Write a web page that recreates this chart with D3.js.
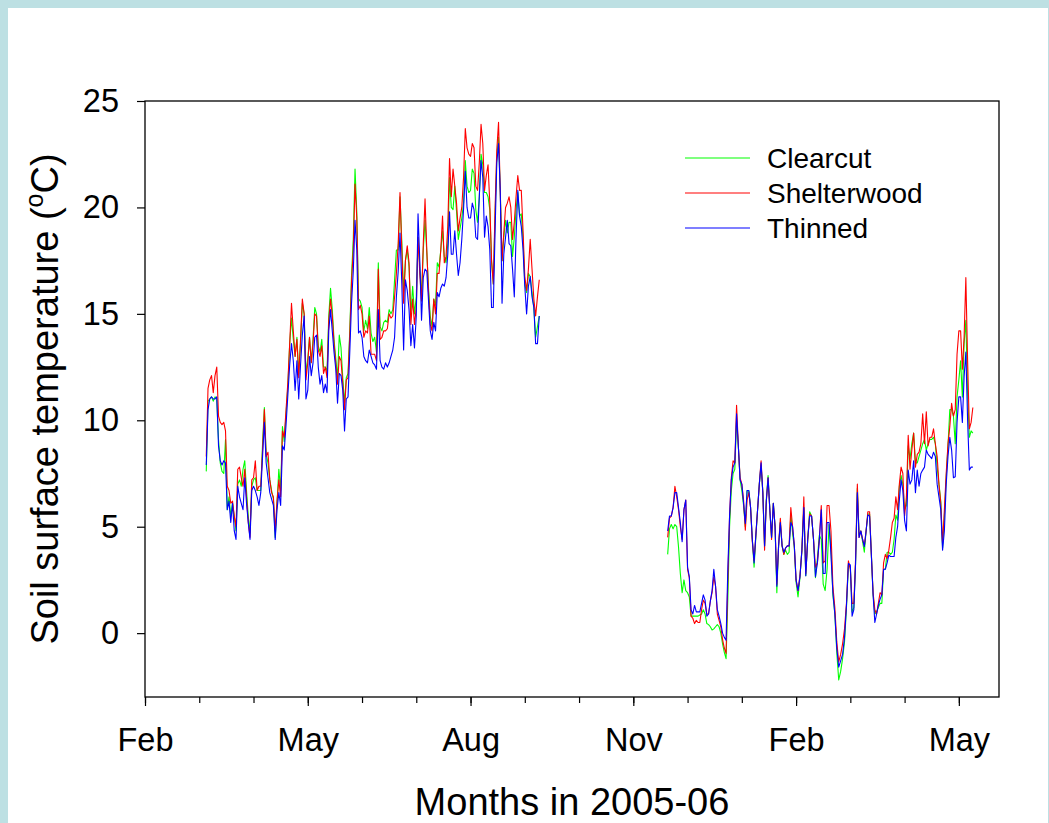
<!DOCTYPE html>
<html>
<head>
<meta charset="utf-8">
<script src="https://cdn.jsdelivr.net/npm/d3@7"></script>
<style>
  html, body { margin: 0; padding: 0; background: #bde0e3; }
  svg { display: block; }
  text { font-family: Arial, "Liberation Sans", sans-serif; fill: #000; }
</style>
</head>
<body>
<svg id="chart" width="1049" height="823"></svg>
<script>
// ---------------- DATA ----------------
const seriesNames = ["Clearcut", "Shelterwood", "Thinned"];
const seriesColors = ["#00ff00", "#ff0000", "#0000ff"];
const xTickLabels = ["Feb", "May", "Aug", "Nov", "Feb", "May"];
const yTicks = [0, 5, 10, 15, 20, 25];

const seg1Start = "2005-03-05";
const seg2Start = "2005-11-20";

const clearcut1 = [
  7.6, 10.9, 11.0, 11.1, 10.9, 11.1, 11.0, 9.1, 8.0, 7.6,
  7.5, 9.1, 5.8, 6.4, 5.5, 6.1, 5.5, 4.8, 7.0, 7.2,
  6.9, 7.7, 8.1, 6.7, 5.5, 4.7, 6.9, 7.2, 7.3, 6.7,
  6.7, 6.7, 8.9, 10.6, 8.4, 8.0, 7.2, 6.7, 6.3, 4.5,
  6.1, 7.7, 6.7, 9.7, 9.0, 10.3, 11.6, 13.6, 14.8, 13.8,
  13.0, 13.9, 12.2, 13.6, 15.5, 15.0, 12.2, 12.9, 13.9, 12.7,
  13.8, 15.3, 15.0, 13.5, 13.2, 13.8, 12.5, 12.5, 12.3, 14.9,
  16.2, 15.2, 13.8, 12.9, 12.0, 14.0, 13.4, 12.0, 10.8, 12.0,
  12.2, 14.2, 16.8, 18.5, 21.8, 19.8, 15.7, 15.6, 15.3, 14.2,
  14.7, 14.3, 15.3, 14.1, 13.7, 13.9, 13.2, 17.4, 14.4, 14.2,
  14.6, 14.7, 14.6, 15.2, 15.0, 15.2, 16.6, 18.0, 18.0, 20.5,
  18.4, 16.0, 17.5, 18.0, 17.2, 15.0, 16.3, 15.0, 15.8, 18.6,
  17.2, 15.8, 18.0, 19.4, 17.9, 16.2, 14.9, 14.4, 15.7, 15.4,
  17.4, 17.2, 18.0, 18.9, 17.7, 17.4, 18.3, 21.4, 20.0, 19.9,
  21.0, 19.8, 18.5, 19.0, 19.5, 20.2, 22.2, 21.0, 20.7, 20.8,
  21.8, 21.6, 19.9, 19.3, 20.5, 22.5, 22.0, 20.7, 20.7, 20.5,
  19.9, 17.5, 16.4, 19.5, 22.4, 23.3, 20.7, 17.5, 18.6, 19.4,
  18.8, 19.3, 19.3, 17.7, 18.6, 19.9, 20.7, 19.6, 19.7, 18.5,
  16.4, 16.0, 16.9, 16.75, 16.0, 15.3, 13.9, 14.4, 14.9
];
const shelterwood1 = [
  8.3, 11.5, 11.9, 12.1, 11.3, 12.1, 12.5, 10.2, 9.9, 9.8,
  9.9, 9.5, 6.9, 6.7, 6.1, 6.2, 5.5, 5.0, 7.7, 7.8,
  7.3, 6.9, 7.7, 6.4, 5.2, 4.5, 7.2, 7.3, 8.1, 6.7,
  6.9, 6.9, 8.6, 10.5, 8.3, 8.5, 7.2, 6.6, 6.4, 4.8,
  6.2, 7.2, 6.4, 9.5, 9.2, 10.5, 11.8, 13.6, 15.5, 14.2,
  13.0, 13.8, 12.0, 13.8, 15.7, 15.0, 11.9, 12.7, 13.9, 12.7,
  13.6, 15.0, 14.9, 13.3, 13.0, 13.5, 12.2, 12.5, 12.0, 14.7,
  15.7, 14.9, 13.6, 12.7, 11.7, 13.0, 12.8, 11.7, 10.5, 11.9,
  12.0, 14.0, 16.5, 18.0, 21.1, 19.5, 15.2, 15.4, 15.0, 13.9,
  14.2, 14.1, 14.9, 13.1, 13.1, 13.1, 12.8, 17.1, 13.8, 13.9,
  14.2, 14.2, 14.3, 15.0, 14.8, 14.9, 15.8, 16.9, 18.3, 20.7,
  18.0, 15.5, 17.5, 18.2, 17.4, 14.5, 15.7, 14.5, 15.3, 18.6,
  16.9, 15.6, 18.3, 20.4, 18.0, 16.0, 14.5, 14.2, 15.7, 15.0,
  16.9, 16.9, 18.0, 19.6, 17.4, 17.7, 19.1, 22.3, 20.5, 21.8,
  21.0, 20.2, 18.9, 19.5, 20.0, 21.4, 23.7, 22.8, 22.5, 22.4,
  23.0, 22.8, 21.0, 20.8, 22.1, 23.9, 23.0, 20.8, 21.5, 22.0,
  20.2, 17.5, 16.4, 19.9, 22.7, 24.0, 20.7, 17.5, 18.8, 20.0,
  20.2, 20.5, 20.0, 18.5, 19.3, 20.5, 21.5, 20.8, 20.8, 18.9,
  16.75, 16.1, 17.1, 18.5, 17.1, 15.7, 14.9, 15.8, 16.6
];
const thinned1 = [
  7.9, 10.5, 11.0, 11.1, 11.0, 11.0, 11.1, 8.8, 8.1, 7.9,
  8.1, 8.0, 5.8, 6.2, 5.2, 6.1, 4.8, 4.4, 6.9, 6.4,
  6.1, 5.8, 7.3, 6.1, 5.2, 4.4, 6.7, 6.9, 6.7, 6.4,
  6.0, 6.6, 8.3, 9.9, 8.0, 7.3, 6.6, 6.3, 6.0, 4.4,
  5.8, 6.6, 6.0, 8.8, 8.6, 9.8, 11.2, 12.6, 13.6, 12.8,
  11.4, 12.8, 11.0, 12.6, 14.0, 14.9, 11.0, 11.4, 13.0, 12.1,
  12.7, 13.9, 14.0, 12.5, 11.7, 12.1, 11.3, 11.7, 11.3, 14.2,
  15.2, 14.2, 13.2, 12.4, 10.8, 12.2, 12.1, 11.4, 9.5, 11.0,
  11.1, 13.2, 15.5, 17.0, 19.4, 18.0, 14.1, 14.2, 13.9, 13.0,
  12.8, 12.7, 13.3, 13.0, 12.7, 12.6, 12.4, 15.2, 12.8, 12.5,
  12.4, 12.7, 12.5, 12.7, 13.0, 13.3, 13.9, 15.8, 17.0, 18.8,
  16.4, 13.3, 16.6, 16.1, 15.2, 13.5, 14.5, 13.4, 14.9, 19.7,
  17.5, 14.7, 16.7, 17.1, 17.0, 15.6, 14.2, 13.8, 14.6, 14.2,
  16.0, 15.8, 16.2, 16.4, 16.3, 16.7, 17.8, 19.8, 17.8, 17.8,
  18.9, 17.8, 16.8, 17.4, 18.5, 19.9, 21.7, 20.0, 19.5, 19.5,
  20.2, 19.9, 18.6, 18.5, 20.5, 22.2, 21.4, 18.6, 19.6, 19.1,
  18.0, 15.3, 15.3, 18.8, 22.1, 23.0, 20.7, 15.5, 17.8, 18.6,
  19.4, 18.3, 18.2, 17.1, 15.8, 18.6, 20.8, 19.6, 19.1, 18.0,
  16.3, 15.0, 16.3, 16.75, 15.8, 15.3, 13.6, 13.6, 14.9
];

const clearcut2 = [
  3.7, 4.9, 5.1, 4.9, 5.1, 5.0, 4.05, 2.8, 1.9, 2.5,
  2.0, 1.9, 1.7, 0.8, 0.8, 0.8, 0.8, 0.8, 0.85, 0.9,
  1.1, 0.9, 0.45, 0.4, 0.3, 0.15, 0.2, 0.3, 0.4, 0.3,
  0.0, -0.5, -0.9, -1.2, 1.6, 5.0, 6.7, 7.5, 7.7, 10.0,
  8.8, 7.2, 6.7, 6.0, 5.0, 6.7, 6.7, 5.9, 4.4, 3.1,
  4.5, 5.8, 7.0, 7.9, 6.6, 4.1, 6.3, 7.4, 5.8, 4.5,
  6.1, 5.0, 1.9, 4.1, 5.2, 4.1, 3.7, 3.9, 3.7, 3.8,
  5.6, 4.7, 4.0, 2.4, 1.7, 2.6, 3.9, 5.9, 2.7, 4.4,
  5.7, 5.5, 4.4, 2.6, 3.5, 4.6, 4.4, 2.3, 2.0, 3.0,
  5.1, 4.0, 1.8, 0.9, -0.9, -2.2, -1.8, -1.2, -0.4, 1.2,
  3.2, 3.1, 1.0, 1.2, 3.3, 6.8, 4.6, 4.8, 4.3, 3.8,
  4.8, 5.6, 5.6, 3.7, 1.8, 0.9, 1.0, 1.2, 1.4, 1.4,
  3.0, 3.0, 3.8, 3.8, 3.7, 3.8, 4.4, 5.55, 5.3, 6.9,
  7.4, 7.0, 5.8, 6.0, 8.8, 8.2, 8.9, 9.4, 8.0, 8.0,
  8.3, 8.6, 8.9, 9.1, 8.6, 8.9, 9.1, 9.1, 9.2, 8.9,
  7.8, 7.0, 6.2, 4.0, 5.5, 7.3, 8.8, 10.5, 10.5, 10.2,
  8.9, 11.1, 11.9, 12.8, 11.1, 13.6, 14.7, 11.3, 9.2, 9.5,
  9.4
];
const shelterwood2 = [
  4.5, 5.4, 5.5, 5.9, 6.9, 6.4, 5.8, 5.0, 4.4, 5.8,
  6.25, 3.0, 2.6, 0.8, 0.7, 0.45, 0.6, 0.5, 0.5, 1.1,
  1.55, 1.4, 0.9, 0.9, 1.5, 1.9, 2.65, 2.2, 0.9, 0.6,
  0.3, -0.3, -0.7, -0.95, 2.5, 5.5, 7.3, 8.1, 8.0, 10.7,
  8.8, 7.3, 7.0, 6.25, 4.84, 6.25, 6.6, 5.9, 4.3, 3.4,
  4.6, 5.8, 7.0, 8.1, 6.6, 3.9, 6.2, 7.3, 5.8, 4.4,
  6.1, 5.0, 2.3, 4.1, 5.4, 4.1, 3.7, 4.0, 4.1, 4.1,
  5.9, 5.0, 4.1, 2.5, 2.0, 2.7, 3.9, 6.4, 2.8, 4.4,
  5.6, 5.5, 4.4, 3.1, 3.3, 4.4, 6.0, 3.3, 3.4, 6.0,
  6.0, 4.8, 2.2, 1.2, -0.4, -1.35, -1.0, -0.5, 0.2, 1.4,
  3.4, 3.0, 1.4, 1.4, 3.5, 7.0, 4.5, 4.8, 4.4, 4.1,
  4.8, 5.7, 5.7, 3.7, 1.9, 1.1, 0.9, 1.4, 1.9, 1.8,
  3.3, 3.7, 3.5, 3.9, 4.5, 5.2, 5.4, 6.4, 5.8, 7.0,
  7.8, 7.5, 5.5, 6.4, 9.3, 7.7, 8.6, 9.4, 7.8, 8.4,
  8.5, 8.9, 10.3, 8.9, 10.4, 8.8, 9.2, 9.2, 9.6, 8.9,
  8.3, 7.0, 6.1, 4.2, 5.8, 7.5, 8.9, 9.7, 10.8, 10.2,
  10.5, 13.1, 14.2, 14.2, 12.4, 13.9, 16.7, 12.8, 9.6, 9.9,
  10.6
];
const thinned2 = [
  4.8, 5.5, 5.5, 5.9, 6.6, 6.6, 5.9, 5.2, 4.3, 5.8,
  6.25, 3.1, 2.65, 1.1, 0.9, 1.3, 1.0, 1.0, 1.0, 1.4,
  1.8, 1.55, 0.8, 0.9, 1.5, 2.0, 3.0, 2.2, 1.1, 0.8,
  0.45, 0.0, -0.2, -0.33, 3.0, 5.5, 7.2, 7.8, 8.0, 10.3,
  8.8, 7.2, 7.0, 6.1, 5.15, 6.7, 6.7, 5.9, 4.4, 3.3,
  4.6, 5.8, 7.0, 8.0, 6.6, 4.1, 6.2, 7.3, 5.8, 4.5,
  6.1, 5.0, 2.2, 4.1, 5.2, 4.1, 3.8, 4.0, 4.1, 4.1,
  5.2, 5.0, 4.1, 2.5, 2.0, 2.65, 3.9, 5.9, 2.7, 4.4,
  5.5, 5.5, 4.4, 2.65, 3.3, 4.4, 5.8, 2.8, 2.8, 5.2,
  5.2, 3.7, 1.9, 0.9, -0.7, -1.6, -1.3, -1.0, -0.2, 1.3,
  3.27, 3.2, 0.8, 1.1, 3.3, 6.6, 4.5, 4.8, 4.4, 4.06,
  4.8, 5.55, 5.5, 3.7, 1.8, 0.5, 0.9, 1.3, 1.6, 1.8,
  3.0, 3.0, 3.3, 3.66, 3.6, 3.6, 3.6, 4.5, 5.0, 6.25,
  7.2, 6.7, 5.3, 4.8, 7.66, 7.0, 7.2, 8.1, 6.6, 7.66,
  6.9, 7.5, 7.66, 7.8, 8.6, 8.4, 8.3, 8.2, 8.5, 8.3,
  7.0, 6.4, 5.8, 3.9, 4.8, 7.0, 8.3, 9.2, 8.6, 7.3,
  7.35, 9.9, 11.1, 11.1, 9.9, 12.05, 13.2, 10.0, 7.66, 7.8,
  7.8
];

// ---------------- LAYOUT ----------------
const W = 1049, H = 823;
const plot = { left: 145, right: 999, top: 101, bottom: 697 };
const FONT = "Arial, 'Liberation Sans', sans-serif";

const svg = d3.select("#chart");
svg.append("rect").attr("x", 8).attr("y", 8).attr("width", 1040).attr("height", H)
  .attr("fill", "#ffffff");

// month index: 0 = Feb 2005
const parse = d3.timeParse("%Y-%m-%d");
function monthIndex(d) {
  const yr = d.getFullYear(), m = d.getMonth();
  const dim = new Date(yr, m + 1, 0).getDate();
  return (yr - 2005) * 12 + m - 1 + (d.getDate() - 1) / dim;
}

const x = d3.scaleLinear().domain([0, 15.74]).range([plot.left, plot.right]);
const y = d3.scaleLinear().domain([-3, 25]).range([plot.bottom, plot.top]);

function build(startStr, values) {
  const s = parse(startStr);
  return values.map((v, i) => ({ t: monthIndex(d3.timeDay.offset(s, i)), v }));
}

const series = [
  { name: seriesNames[0], color: seriesColors[0], segs: [build(seg1Start, clearcut1), build(seg2Start, clearcut2)] },
  { name: seriesNames[1], color: seriesColors[1], segs: [build(seg1Start, shelterwood1), build(seg2Start, shelterwood2)] },
  { name: seriesNames[2], color: seriesColors[2], segs: [build(seg1Start, thinned1), build(seg2Start, thinned2)] }
];

const line = d3.line().x(d => x(d.t)).y(d => y(d.v));

const gLines = svg.append("g");
series.forEach(s => {
  s.segs.forEach(seg => {
    gLines.append("path").datum(seg)
      .attr("fill", "none")
      .attr("stroke", s.color)
      .attr("stroke-width", 1.1)
      .attr("stroke-linejoin", "round")
      .attr("d", line);
  });
});

// frame
svg.append("rect")
  .attr("x", plot.left).attr("y", plot.top)
  .attr("width", plot.right - plot.left).attr("height", plot.bottom - plot.top)
  .attr("fill", "none").attr("stroke", "#000").attr("stroke-width", 1.3);

// x axis: minor ticks every month
const minorAxis = d3.axisBottom(x).tickValues(d3.range(0, 16)).tickSize(6).tickFormat("");
svg.append("g").attr("transform", `translate(0,${plot.bottom})`).call(minorAxis)
  .call(g => g.select(".domain").remove())
  .call(g => g.selectAll("line").attr("stroke", "#000").attr("stroke-width", 1.2));

const majorVals = d3.range(0, 16, 3);
const majorAxis = d3.axisBottom(x).tickValues(majorVals).tickSize(9).tickPadding(22)
  .tickFormat((d, i) => xTickLabels[i]);
svg.append("g").attr("transform", `translate(0,${plot.bottom})`).call(majorAxis)
  .call(g => g.select(".domain").remove())
  .call(g => g.selectAll("line").attr("stroke", "#000").attr("stroke-width", 1.2))
  .call(g => g.selectAll("text").attr("font-size", 32.5).attr("font-family", FONT).attr("fill", "#000"));

// y axis
const yAxis = d3.axisLeft(y).tickValues(yTicks).tickSize(8).tickPadding(18).tickFormat(d3.format("d"));
svg.append("g").attr("transform", `translate(${plot.left},0)`).call(yAxis)
  .call(g => g.select(".domain").remove())
  .call(g => g.selectAll("line").attr("stroke", "#000").attr("stroke-width", 1.2))
  .call(g => g.selectAll("text").attr("font-size", 32.5).attr("font-family", FONT).attr("fill", "#000"));

// axis titles
svg.append("text")
  .attr("x", (plot.left + plot.right) / 2).attr("y", 815)
  .attr("text-anchor", "middle").attr("font-size", 38)
  .text("Months in 2005-06");

const yt = svg.append("text")
  .attr("transform", `translate(58,${(plot.top + plot.bottom) / 2}) rotate(-90)`)
  .attr("text-anchor", "middle").attr("font-size", 38);
yt.append("tspan").text("Soil surface temperature (");
yt.append("tspan").attr("font-size", 25).attr("dy", -15).text("o");
yt.append("tspan").attr("dy", 15).text("C)");

// legend
const legend = svg.append("g");
series.forEach((s, i) => {
  const ly = 158 + i * 35;
  legend.append("line").attr("x1", 685).attr("x2", 750).attr("y1", ly).attr("y2", ly)
    .attr("stroke", s.color).attr("stroke-width", 1.1);
  legend.append("text").attr("x", 767).attr("y", ly + 10).attr("font-size", 28).text(s.name);
});
</script>
</body>
</html>
